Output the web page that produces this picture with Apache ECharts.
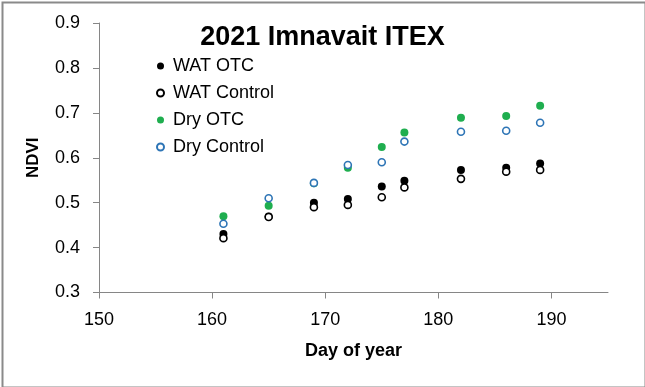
<!DOCTYPE html>
<html>
<head>
<meta charset="utf-8">
<script src="https://cdn.jsdelivr.net/npm/echarts@6/dist/echarts.min.js"></script>
<style>
html,body{margin:0;padding:0;background:#fff;}
#c{width:645px;height:387px;}
</style>
</head>
<body>
<div id="c"></div>
<script>
const days = [161, 165, 169, 172, 175, 177, 182, 186, 189];
const watOTC = [0.430, 0.469, 0.500, 0.508, 0.536, 0.549, 0.573, 0.578, 0.587];
const watControl = [0.421, 0.468, 0.490, 0.495, 0.512, 0.534, 0.553, 0.569, 0.573];
const dryOTC = [0.470, 0.493, 0.543, 0.578, 0.624, 0.656, 0.689, 0.693, 0.716];
const dryControl = [0.453, 0.510, 0.544, 0.584, 0.590, 0.636, 0.658, 0.660, 0.678];
const seriesNames = ['WAT OTC', 'WAT Control', 'Dry OTC', 'Dry Control'];
const xTicks = [150, 160, 170, 180, 190];
const yTicks = [0.3, 0.4, 0.5, 0.6, 0.7, 0.8, 0.9];

const FONT = 'Liberation Sans';
function pts(vals){ return days.map((d,i)=>[d, vals[i]]); }

const chart = echarts.init(document.getElementById('c'), null, {renderer:'canvas'});
const axisLine = {show:true, lineStyle:{color:'#868686', width:1}};
chart.setOption({
  animation:false,
  backgroundColor:'#fff',
  textStyle:{fontFamily:FONT},
  title:{
    text:'2021 Imnavait ITEX', left:'center', top:19,
    textStyle:{fontFamily:FONT, fontSize:27, fontWeight:'bold', color:'#000'}
  },
  legend:{
    orient:'vertical', left:151, top:52, itemGap:9,
    itemWidth:7, itemHeight:7,
    textStyle:{fontFamily:FONT, fontSize:18, color:'#000', lineHeight:18, padding:[0,0,0,4]},
    data:seriesNames.map(n=>({name:n, icon:'circle'}))
  },
  grid:{left:99, right:37, top:23, bottom:94.5},
  xAxis:{
    type:'value', min:150, max:195, interval:10,
    name:'Day of year', nameLocation:'middle', nameGap:50,
    nameTextStyle:{fontFamily:FONT, fontSize:18, fontWeight:'bold', color:'#000'},
    axisLine:axisLine,
    axisTick:{show:true, length:6, inside:false, customValues:xTicks, lineStyle:{color:'#868686'}},
    axisLabel:{fontFamily:FONT, fontSize:18, color:'#000', margin:19, customValues:xTicks},
    splitLine:{show:false}
  },
  yAxis:{
    type:'value', min:0.3, max:0.9, interval:0.1,
    name:'NDVI', nameLocation:'middle', nameGap:57, nameRotate:90,
    nameTextStyle:{fontFamily:FONT, fontSize:17, fontWeight:'bold', color:'#000'},
    axisLine:axisLine,
    axisTick:{show:true, length:6, customValues:yTicks, lineStyle:{color:'#868686'}},
    axisLabel:{fontFamily:FONT, fontSize:18, color:'#000', margin:19, customValues:yTicks, formatter:v=>v.toFixed(1)},
    splitLine:{show:false}
  },
  series:[
    {name:seriesNames[0], type:'scatter', data:pts(watOTC), symbol:'circle', symbolSize:8,
     itemStyle:{color:'#000', opacity:1}},
    {name:seriesNames[1], type:'scatter', data:pts(watControl), symbol:'circle', symbolSize:7,
     itemStyle:{color:'#fff', borderColor:'#000', borderWidth:1.6, opacity:1}},
    {name:seriesNames[2], type:'scatter', data:pts(dryOTC), symbol:'circle', symbolSize:8,
     itemStyle:{color:'#1fae4f', opacity:1}},
    {name:seriesNames[3], type:'scatter', data:pts(dryControl), symbol:'circle', symbolSize:7,
     itemStyle:{color:'#fff', borderColor:'#2e75b6', borderWidth:1.6, opacity:1}}
  ],
  graphic:[{
    type:'rect', left:0, top:0, silent:true, z:100,
    shape:{x:1, y:1, width:643, height:385},
    style:{fill:'none', stroke:'#8a8a8a', lineWidth:2}
  }]
});
</script>
</body>
</html>
